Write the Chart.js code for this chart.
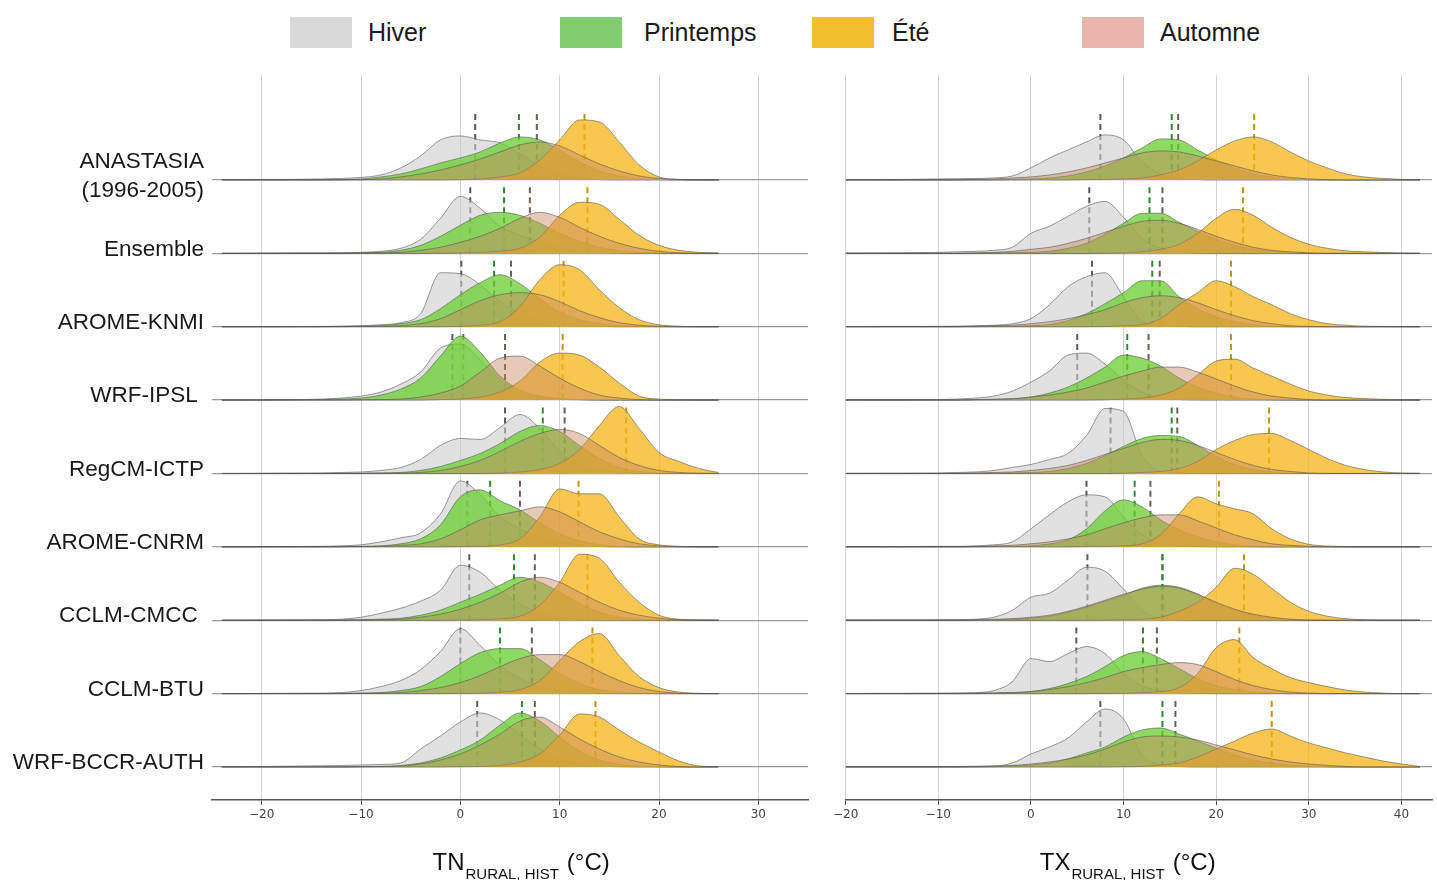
<!DOCTYPE html>
<html lang="fr">
<head>
<meta charset="utf-8">
<title>TN / TX rural hist</title>
<script src="https://cdn.jsdelivr.net/npm/chart.js@4.4.1/dist/chart.umd.min.js"></script>
<style>
  body { margin: 0; background: #fff; width: 1437px; height: 880px; position: relative; overflow: hidden;
         font-family: "Liberation Sans", Arial, sans-serif; }
  #tnChart { position: absolute; left: 0; top: 0; }
  #txChart { position: absolute; left: 830px; top: 0; }
  .key { position: absolute; top: 17px; width: 62px; height: 31px; }
  .keyText { position: absolute; top: 13px; font-size: 25px; line-height: 38px; color: #1a1a1a; }
</style>
</head>
<body>

<div class="key" style="left:290px; background:#d9d9d9"></div>
<div class="keyText" style="left:368px">Hiver</div>
<div class="key" style="left:560px; background:#80cc6e"></div>
<div class="keyText" style="left:644px">Printemps</div>
<div class="key" style="left:812px; background:#f3bf2e"></div>
<div class="keyText" style="left:892px">Été</div>
<div class="key" style="left:1082px; background:#eab5aa"></div>
<div class="keyText" style="left:1160px">Automne</div>

<canvas id="tnChart" width="820" height="880"></canvas>
<canvas id="txChart" width="607" height="880"></canvas>

<script>
// --- DATA ---
const models = [['ANASTASIA', '(1996-2005)'], 'Ensemble', 'AROME-KNMI', 'WRF-IPSL ', 'RegCM-ICTP',
                'AROME-CNRM', 'CCLM-CMCC ', 'CCLM-BTU', 'WRF-BCCR-AUTH'];
const seasons = ['Hiver', 'Printemps', 'Été', 'Automne'];

// temperature grid (°C) the ridges are read on
const tnGrid = [-24,-22,-20,-18,-16,-14,-12,-10,-8,-6,-4,-2,0,2,4,6,8,10,12,14,16,18,20,22,24,26];
const txGrid = [-20,-18,-16,-14,-12,-10,-8,-6,-4,-2,0,2,4,6,8,10,12,14,16,18,20,22,24,26,28,30,32,34,36,38,40,42];

const tnTicks = [-20, -10, 0, 10, 20, 30];
const txTicks = [-20, -10, 0, 10, 20, 30, 40];

// ridge heights (relative density), one row per model
const tnHiver = [
  [0.3,0.3,0.5,0.5,0.7,1,1.5,2.5,5,12,24,40,44,40,37,26,14,6,2,0.5,0,0,0,0,0,0],
  [0,0,0.2,0.3,0.5,0.5,0.5,1,2,5,14,35,57,45,27,18,11,6,3,1,0.5,0,0,0,0,0],
  [0,0,0,0,0.2,0.3,0.5,1,2,4,13,54,53,42,25,14,7,3,1,0.3,0,0,0,0,0,0],
  [0,0,0.2,0.3,0.5,1,2,4,8,16,28,52,56,40,20,8,3,1,0.3,0,0,0,0,0,0,0],
  [0,0,0.2,0.3,0.4,0.5,1,1.5,3,6,14,28,35,34,46,59,45,22,9,3,1,0.3,0,0,0,0],
  [0,0,0.2,0.3,0.4,0.5,1,2,5,9,14,33,66,52,30,18,10,5,2,0.5,0,0,0,0,0,0],
  [0,0,0.2,0.3,0.4,0.5,1,3,7,12,19,30,55,48,30,16,8,3,1,0.3,0,0,0,0,0,0],
  [0,0,0.2,0.3,0.4,0.5,1,3,7,13,24,42,65,48,28,15,7,3,1,0.3,0,0,0,0,0,0],
  [0.3,0.4,0.5,0.7,1,1.2,1.5,2,2.5,4,18,31,45,54,47,32,18,8,3,1,0.3,0,0,0,0,0]
];
const tnPrintemps = [
  [0,0,0,0,0,0,0.3,1,3,6,11,17,22,28,37,43,40,30,18,9,4,1.5,0.5,0,0,0],
  [0,0,0,0,0,0,0.3,0.5,1,3,8,17,28,38,41,38,30,20,12,6,2.5,1,0.3,0,0,0],
  [0,0,0,0,0,0,0.3,0.5,1,3,7,18,32,44,52,43,28,15,7,3,1,0.3,0,0,0,0],
  [0,0,0,0.2,0.3,0.5,1,2,5,11,22,44,64,48,24,10,4,1.5,0.5,0,0,0,0,0,0,0],
  [0,0,0,0,0,0,0,0.3,0.5,1,3,7,13,20,30,42,48,42,28,15,6,2,0.5,0,0,0],
  [0,0,0,0,0,0,0.3,0.5,1,3,8,22,50,57,46,37,24,13,6,2,0.5,0,0,0,0,0],
  [0,0,0,0,0,0,0.3,0.5,1,2,5,10,18,26,35,43,38,28,17,8,3,1,0.3,0,0,0],
  [0,0,0,0,0,0,0.3,0.5,1,3,7,17,30,41,45,45,34,20,10,4,1.5,0.5,0,0,0,0],
  [0,0,0,0,0,0,0,0.3,0.5,1.5,4,9,17,27,42,54,46,30,16,7,2.5,1,0.3,0,0,0]
];
const tnEte = [
  [0,0,0,0,0,0,0,0,0,0,0,0,0.3,1,3,7,20,40,60,58,38,15,3,0.5,0,0],
  [0,0,0,0,0,0,0,0,0,0,0,0.3,0.5,1,2,5,16,38,51,49,34,18,8,3,1,0.3],
  [0,0,0,0,0,0,0,0,0,0,0,0,0.5,1.5,5,20,47,62,57,37,19,7,2,0.5,0,0],
  [0,0,0,0,0,0,0,0,0,0,0,0.5,1,3,8,19,38,47,45,33,17,4,1,0.3,0,0],
  [0,0,0,0,0,0,0,0,0,0,0,0,0,0,0.5,1.5,4,10,24,48,67,45,21,12,5,1],
  [0,0,0,0,0,0,0,0,0,0,0,0,0.3,0.5,2,8,30,58,53,53,30,8,2,0.5,0,0],
  [0,0,0,0,0,0,0,0,0,0,0,0,0.3,0.5,1.5,4,15,38,66,62,38,18,5,1,0.3,0],
  [0,0,0,0,0,0,0,0,0,0,0,0,0.3,0.5,1.5,4,13,33,52,60,38,17,6,1.5,0.3,0],
  [0,0,0,0,0,0,0,0,0,0,0,0,0.3,0.5,1.5,5,13,32,53,50,37,25,15,6,1,0.3]
];
const tnAutomne = [
  [0,0,0,0,0,0,0,0.3,1,3,6,10,15,21,28,35,38,34,25,16,9,4,1.5,0.5,0,0],
  [0,0,0,0,0,0,0,0.3,0.5,1,3,6,11,17,25,35,41,36,26,17,10,5,2,0.5,0,0],
  [0,0,0,0,0,0,0,0.3,0.5,1,3,8,17,26,32,34,32,25,16,9,4,1.5,0.5,0,0,0],
  [0,0,0,0,0,0,0,0.3,0.5,1,3,7,14,28,42,44,34,22,12,5,2,0.5,0,0,0,0],
  [0,0,0,0,0,0,0,0,0.3,0.5,1,3,7,13,22,32,40,44,40,28,16,8,3,1,0.3,0],
  [0,0,0,0,0,0,0,0.3,0.5,1.5,3,8,17,27,32,36,40,35,25,15,8,3,1,0.3,0,0],
  [0,0,0,0,0,0,0,0.3,0.5,1,3,6,11,18,27,38,43,38,28,18,10,5,2,0.5,0,0],
  [0,0,0,0,0,0,0,0.3,0.5,1,3,6,11,18,27,35,39,39,32,22,13,6,2,0.5,0,0],
  [0,0,0,0,0,0,0,0.3,0.5,1,3,7,13,22,33,46,50,40,28,18,10,5,2,0.5,0,0]
];

const txHiver = [
  [0.3,0.3,0.4,0.5,0.7,1,1.2,1.5,2,4,12,22,30,38,45,40,18,6,2,0.5,0,0,0,0,0,0,0,0,0,0,0,0],
  [0.3,0.3,0.4,0.5,0.7,1,1.5,2,3,6,20,27,37,47,52,36,15,5,1.5,0.5,0,0,0,0,0,0,0,0,0,0,0,0],
  [0.2,0.2,0.3,0.3,0.3,0.4,0.5,1,1.5,3,8,22,40,50,54,30,5,2,0.5,0,0,0,0,0,0,0,0,0,0,0,0,0],
  [0.2,0.2,0.3,0.3,0.4,0.5,1,2,4,9,18,29,45,47,36,20,8,2,0.5,0,0,0,0,0,0,0,0,0,0,0,0,0],
  [0.2,0.2,0.3,0.3,0.4,0.5,1,1.5,3,6,9,14,20,38,65,62,18,2,0.5,0.2,0,0,0,0,0,0,0,0,0,0,0,0],
  [0.2,0.2,0.3,0.3,0.4,0.5,0.5,1,2,5,18,32,45,52,50,30,12,4,1,0.3,0,0,0,0,0,0,0,0,0,0,0,0],
  [0.2,0.2,0.3,0.3,0.3,0.4,0.5,1,3,10,23,27,40,53,49,31,10,2,0.5,0,0,0,0,0,0,0,0,0,0,0,0,0],
  [0.2,0.2,0.3,0.3,0.4,0.5,0.7,1,3,12,35,32,40,47,40,20,8,3,1,0.3,0,0,0,0,0,0,0,0,0,0,0,0],
  [0.2,0.2,0.3,0.3,0.3,0.4,0.5,0.7,1,4,13,20,29,45,58,48,12,2,0.5,0,0,0,0,0,0,0,0,0,0,0,0,0]
];
const txPrintemps = [
  [0,0,0,0,0,0,0,0,0,0.5,1,2,4,8,14,22,32,41,40,30,20,12,6,3,1,0.3,0,0,0,0,0,0],
  [0,0,0,0,0,0,0,0,0.5,0.7,1,2,5,10,19,30,40,40,31,22,14,8,4,2,0.5,0,0,0,0,0,0,0],
  [0,0,0,0,0,0,0,0,0.3,0.5,1,2,6,13,23,34,46,46,30,18,10,5,2,0.5,0,0,0,0,0,0,0,0],
  [0,0,0,0,0,0,0,0.3,0.5,1,3,7,13,22,33,45,42,34,22,13,7,3,1,0.3,0,0,0,0,0,0,0,0],
  [0,0,0,0,0,0,0,0,0.3,0.5,1,2,5,10,18,27,35,38,37,28,17,9,4,1.5,0.5,0,0,0,0,0,0,0],
  [0,0,0,0,0,0,0,0,0.3,0.5,1,3,7,18,36,47,40,27,17,10,5,2,0.5,0,0,0,0,0,0,0,0,0],
  [0,0,0,0,0,0,0,0,0.3,1,2,4,8,13,19,25,32,35,33,26,17,10,5,2,0.5,0,0,0,0,0,0,0],
  [0,0,0,0,0,0,0,0,0.5,1,2,5,10,17,27,38,42,35,25,15,8,4,1.5,0.5,0,0,0,0,0,0,0,0],
  [0,0,0,0,0,0,0,0,0.3,1,2,4,8,14,20,30,37,39,33,26,19,12,7,4,2,1,0.3,0,0,0,0,0]
];
const txEte = [
  [0,0,0,0,0,0,0,0,0,0,0,0,0,0.3,0.5,1,2,5,10,19,30,39,43,38,28,19,12,6,3,1.5,0.5,0.2],
  [0,0,0,0,0,0,0,0,0,0,0,0,0,0,0.3,0.5,1.5,4,9,20,35,44,38,26,16,9,5,2.5,1.5,0.8,0.3,0],
  [0,0,0,0,0,0,0,0,0,0,0,0,0,0,0.3,1,2,8,22,34,46,40,30,22,13,7,3,1.5,0.5,0.3,0,0],
  [0,0,0,0,0,0,0,0,0,0,0,0,0,0,0.3,1,2,5,12,25,39,41,32,24,16,9,5,2.5,1.5,0.8,0.3,0],
  [0,0,0,0,0,0,0,0,0,0,0,0,0,0,0,0.3,1,2,5,12,24,33,39,40,33,24,15,8,4,1.5,0.5,0.2],
  [0,0,0,0,0,0,0,0,0,0,0,0,0,0.3,0.5,1,3,12,33,50,43,38,33,18,8,2.5,0.8,0.3,0,0,0,0],
  [0,0,0,0,0,0,0,0,0,0,0,0,0,0,0.3,0.5,1,3,9,18,33,52,46,32,18,9,4,1.5,0.5,0,0,0],
  [0,0,0,0,0,0,0,0,0,0,0,0,0,0,0.3,0.5,1,2,6,20,46,54,36,25,16,11,7,3.5,1.5,0.5,0,0],
  [0,0,0,0,0,0,0,0,0,0,0,0,0,0,0,0.3,0.5,2,4,10,18,26,34,38,31,24,19,14,10,6,3,0.5]
];
const txAutomne = [
  [0,0,0,0,0,0,0,0.5,1,2,3,5,8,12,17,22,27,29,28,24,19,14,9,5,2.5,1,0.3,0,0,0,0,0],
  [0,0,0,0,0,0,0,0.5,1,2,4,6,10,15,21,27,32,33,30,24,17,11,6,3,1.5,0.5,0,0,0,0,0,0],
  [0,0,0,0,0,0,0,0.5,1,1.5,3,5,8,12,17,24,29,31,29,24,17,11,6,3,1,0.3,0,0,0,0,0,0],
  [0,0,0,0,0,0,0,0.5,1,1.5,3,5,8,12,18,24,29,33,33,28,21,14,8,4,2,0.5,0,0,0,0,0,0],
  [0,0,0,0,0,0,0,0.5,1,1.5,3,5,8,13,19,25,31,34,33,28,21,14,8,4,2,0.5,0,0,0,0,0,0],
  [0,0,0,0,0,0,0,0.5,1,1.5,3,5,8,12,18,24,29,32,32,26,19,12,7,3,1.5,0.5,0,0,0,0,0,0],
  [0,0,0,0,0,0,0,0.5,1,1.5,3,5,9,14,20,26,31,34,32,26,18,11,6,3,1,0.3,0,0,0,0,0,0],
  [0,0,0,0,0,0,0,0.5,0.7,1,2,4,7,11,16,22,26,29,31,29,22,14,8,4,1.5,0.5,0,0,0,0,0,0],
  [0,0,0,0,0,0,0,0.5,1,1.5,3,5,8,12,18,25,30,31,30,27,22,17,12,8,5,3,1.5,0.5,0,0,0,0]
];

// seasonal means (dashed lines), °C
const tnMeanHiver     = [1.5, 1.0, 0.1, -0.8, 4.5, 0.7, 0.9, 0.0, 1.7];
const tnMeanPrintemps = [5.9, 4.4, 3.4, 0.3, 8.3, 3.0, 5.4, 4.0, 6.2];
const tnMeanEte       = [12.5, 12.8, 10.4, 10.3, 16.7, 11.9, 12.8, 13.3, 13.6];
const tnMeanAutomne   = [7.7, 7.0, 5.1, 4.5, 10.5, 6.0, 7.5, 7.2, 7.5];

const txMeanHiver     = [7.5, 6.3, 6.6, 5.0, 8.6, 6.0, 6.1, 4.9, 7.5];
const txMeanPrintemps = [15.2, 12.8, 13.1, 10.4, 15.2, 11.2, 14.2, 12.1, 14.2];
const txMeanEte       = [24.1, 22.9, 21.6, 21.6, 25.7, 20.3, 23.0, 22.5, 26.0];
const txMeanAutomne   = [15.9, 14.2, 13.9, 12.7, 15.8, 12.9, 14.2, 13.6, 15.6];

// --- STYLE ---
const fillColors = ['rgba(205,205,205,0.6)', 'rgba(105,205,45,0.75)', 'rgba(245,180,20,0.75)', 'rgba(200,135,95,0.45)'];
const meanColors = ['#5a5a5a', '#2e8b2e', '#c8930a', '#6e5f55'];
const ROW_GAP = 73.4;   // height units per ridge row

Chart.defaults.font.family = '"Liberation Sans", Arial, sans-serif';

// draws "TN_RURAL, HIST (°C)" under the axis
const axisTitle = {
    id: 'axisTitle',
    afterDraw(chart, args, opts) {
        const ctx = chart.ctx;
        let x = chart.scales.x.getPixelForValue(opts.at);
        ctx.save();
        ctx.fillStyle = '#111';
        ctx.textBaseline = 'alphabetic';
        ctx.font = '24px "Liberation Sans", Arial';
        ctx.fillText(opts.main, x, 870);
        x += ctx.measureText(opts.main).width + 1;
        ctx.font = '15px "Liberation Sans", Arial';
        ctx.fillText('RURAL, HIST', x, 879);
        x += ctx.measureText('RURAL, HIST').width + 8;
        ctx.font = '24px "Liberation Sans", Arial';
        ctx.fillText('(°C)', x, 870);
        ctx.restore();
    }
};

function buildRidge(id, grid, dens, means, xMin, xMax, ticks, opts) {
    const n = models.length;
    const datasets = [];

    models.forEach((m, r) => {
        const base = n - 1 - r;
        dens.forEach((rows, s) => {
            datasets.push({
                label: seasons[s],
                data: grid.map((t, k) => ({ x: t, y: base + rows[r][k] / ROW_GAP })),
                fill: { value: base },
                backgroundColor: fillColors[s],
                borderColor: 'rgba(85,85,85,0.75)',
                borderWidth: 0.8,
                pointRadius: 0,
                cubicInterpolationMode: 'monotone',
                order: 4 - s
            });
            datasets.push({
                label: seasons[s] + ' moyenne',
                data: [{ x: means[s][r], y: base }, { x: means[s][r], y: base + 0.95 }],
                borderColor: meanColors[s],
                borderWidth: 2,
                borderDash: [6, 4],
                pointRadius: 0,
                fill: false,
                order: 10
            });
        });
    });

    return new Chart(document.getElementById(id), {
        type: 'line',
        data: { datasets },
        options: {
            responsive: false,
            animation: false,
            layout: { padding: { top: 75, right: opts.padRight, left: 0, bottom: 0 } },
            plugins: {
                legend: { display: false },
                tooltip: { enabled: false },
                axisTitle: { main: opts.title, at: opts.titleAt }
            },
            scales: {
                x: {
                    type: 'linear', min: xMin, max: xMax,
                    afterBuildTicks: (s) => { s.ticks = ticks.map(v => ({ value: v })); },
                    afterFit: (s) => { s.height = 80; },
                    grid: { color: '#d2d2d2', lineWidth: 1, tickLength: 5, tickColor: '#555' },
                    border: { display: true, color: '#555', width: 1.5 },
                    ticks: {
                        callback: (v) => v < 0 ? '\u2212' + Math.abs(v) : String(v),
                        font: { family: '"DejaVu Sans"', size: 12 },
                        color: '#444', padding: 3, maxRotation: 0, autoSkip: false
                    }
                },
                y: {
                    type: 'linear', min: -0.45, max: 9.43,
                    afterBuildTicks: (s) => { s.ticks = models.map((m, r) => ({ value: n - 1 - r })); },
                    afterFit: (s) => { s.width = opts.yWidth; },
                    grid: { color: '#9a9a9a', lineWidth: 1.2, drawTicks: false },
                    border: { display: false },
                    ticks: {
                        display: opts.names,
                        callback: (v) => models[n - 1 - v],
                        font: { size: 22.5, lineHeight: 1.3 },
                        color: '#1a1a1a',
                        padding: 8,
                        labelOffset: -4
                    }
                }
            }
        },
        plugins: [axisTitle]
    });
}

buildRidge('tnChart', tnGrid, [tnHiver, tnPrintemps, tnEte, tnAutomne],
    [tnMeanHiver, tnMeanPrintemps, tnMeanEte, tnMeanAutomne], -25, 35, tnTicks,
    { yWidth: 212, padRight: 12, names: true, title: 'TN', titleAt: -2.8 });

buildRidge('txChart', txGrid, [txHiver, txPrintemps, txEte, txAutomne],
    [txMeanHiver, txMeanPrintemps, txMeanEte, txMeanAutomne], -20, 43.3, txTicks,
    { yWidth: 13, padRight: 5, names: false, title: 'TX', titleAt: 0.95 });
</script>
</body>
</html>
